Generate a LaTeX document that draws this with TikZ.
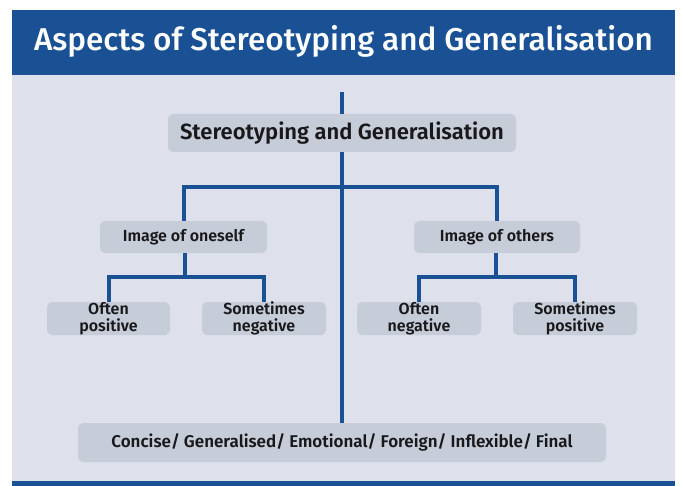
\documentclass[tikz,border=0pt]{standalone}
\usepackage{fontspec}
\setmainfont{Fira Sans}
\newfontfamily\medfont{Fira Sans Medium}
\newfontfamily\semifont{Fira Sans SemiBold}
\usepackage{tikz}
\usetikzlibrary{calc}

\definecolor{barblue}{RGB}{26,81,149}
\definecolor{panelgray}{RGB}{222,225,235}
\definecolor{boxgray}{RGB}{198,204,216}
\definecolor{textdark}{RGB}{25,25,28}

\begin{document}
\begin{tikzpicture}[x=1pt,y=-1pt,
  box/.style={fill=boxgray, rounded corners=5pt, inner sep=0pt, align=center, text=textdark, font=\semifont\fontsize{16}{16.5}\selectfont},
  branch/.style={draw=barblue, line width=4pt}]
\useasboundingbox (0,0) rectangle (682,486);

\fill [barblue] (12,10) rectangle (675,75);
\fill [panelgray] (12,75) rectangle (675,481);
\fill [barblue] (12,481) rectangle (675,486);

\node (title) at (343.5,41) [text=white, font=\medfont\fontsize{31.5}{32}\selectfont] {Aspects of Stereotyping and Generalisation};

% % % % % % % % % % % % % % % % % % % % % % % % % %

\coordinate (stem) at (342,92);
\coordinate (split) at (342,187);
\coordinate (lsplit) at (185,277);
\coordinate (rsplit) at (496,277);

\node (root) at (342,133) [box, minimum width=348, minimum height=38, font=\semifont\fontsize{22}{22}\selectfont] {Stereotyping and Generalisation};
\node (self) at (183.5,237) [box, minimum width=167, minimum height=32] {Image of oneself};
\node (others) at (497,237) [box, minimum width=166, minimum height=32] {Image of others};

\node (selfpos) at (108.5,318.5) [box, minimum width=123, minimum height=33] {Often\\positive};
\node (selfneg) at (264,318.5) [box, minimum width=124, minimum height=33] {Sometimes\\negative};
\node (othneg) at (419,318.5) [box, minimum width=124, minimum height=33] {Often\\negative};
\node (othpos) at (575,318.5) [box, minimum width=124, minimum height=33] {Sometimes\\positive};

\node (traits) at (342,442.5) [box, minimum width=528, minimum height=39, font=\semifont\fontsize{17}{17}\selectfont] {Concise/ Generalised/ Emotional/ Foreign/ Inflexible/ Final};

\draw [branch] (stem) -- (root.north);
\draw [branch] (root.south) -- (traits.north);
\draw [branch] (self.north) |- (split) -| (others.north);
\draw [branch] (self.south -| lsplit) -- (lsplit);
\draw [branch] (selfpos.north) |- (lsplit) -| (selfneg.north);
\draw [branch] (others.south -| rsplit) -- (rsplit);
\draw [branch] (othneg.north) |- (rsplit) -| (othpos.north);
\end{tikzpicture}
\end{document}
